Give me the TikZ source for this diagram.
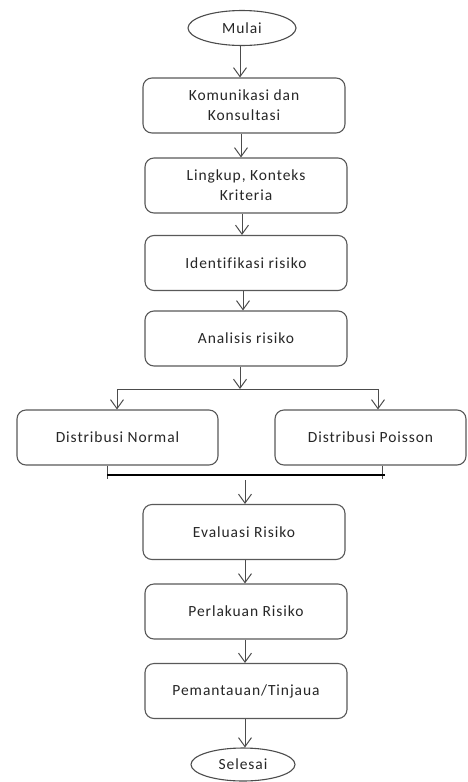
\documentclass[tikz,border=0pt]{standalone}
\usepackage{fontspec}
\setmainfont{Carlito}[LetterSpace=6,RawFeature={-liga;-dlig}]
\usetikzlibrary{arrows.meta,shapes.geometric}
\tikzset{
  stepbox/.style={draw=black!65, line width=1.1pt, rounded corners=9pt, fill=white,
    minimum width=202pt, minimum height=55pt, align=center,
    font=\fontsize{15.5}{20}\selectfont, text=black!85},
  endbox/.style={draw=black!70, line width=1.1pt, ellipse, fill=white,
    minimum width=108pt, minimum height=35pt, inner sep=0pt,
    font=\fontsize{15.5}{20}\selectfont, text=black!85},
  flow/.style={draw=black!70, line width=1pt, -{Straight Barb[length=9pt,width=13pt,line width=1pt]}},
  link/.style={draw=black!70, line width=1pt},
}
\begin{document}
\begin{tikzpicture}[x=1pt,y=-1pt]
  \useasboundingbox (0,0) rectangle (468,782);

  %%%%% nodes %%%%%
  \node[endbox] (mulai) at (242,28) {Mulai};
  \node[stepbox] (komunikasi) at (244,105.5) {Komunikasi dan\\Konsultasi};
  \node[stepbox] (lingkup) at (246,185.5) {Lingkup, Konteks\\Kriteria};
  \node[stepbox] (identifikasi) at (246,263) {Identifikasi risiko};
  \node[stepbox] (analisis) at (246,338.5) {Analisis risiko};
  \node[stepbox, minimum width=201pt] (normal) at (117.5,437.5) {Distribusi Normal};
  \node[stepbox, minimum width=191pt] (poisson) at (370.5,437.5) {Distribusi Poisson};
  \node[stepbox] (evaluasi) at (244,532) {Evaluasi Risiko};
  \node[stepbox] (perlakuan) at (246,611.5) {Perlakuan Risiko};
  \node[stepbox] (pemantauan) at (246,691) {Pemantauan/Tinjaua};
  \node[endbox, minimum width=104pt, minimum height=33pt] (selesai) at (243,764.5) {Selesai};

  %%%%% helper points %%%%%
  \coordinate (cabang) at (240,389);
  \coordinate (cabangkiri) at (117,389);
  \coordinate (cabangkanan) at (378,389);
  \coordinate (gabungkiri) at (107,475);
  \coordinate (gabungkanan) at (385,475);
  \coordinate (gabung) at (245,480);

  %%%%% connectors %%%%%
  \draw[flow] (mulai.south -| 240,0) -- (komunikasi.north -| 240,0);
  \draw[flow] (komunikasi.south -| 241,0) -- (lingkup.north -| 241,0);
  \draw[flow] (lingkup.south -| 242,0) -- (identifikasi.north -| 242,0);
  \draw[flow] (identifikasi.south -| 243,0) -- (analisis.north -| 243,0);

  \draw[flow] (analisis.south -| cabang) -- (cabang);
  \draw[link] (cabangkiri) -- (cabangkanan);
  \draw[flow] (cabangkiri) -- (cabangkiri |- normal.north);
  \draw[flow] (cabangkanan) -- (cabangkanan |- poisson.north);

  \draw[link] (normal.south -| gabungkiri) -- ++(0,13);
  \draw[link] (poisson.south -| 382,0) -- ++(0,13);
  \draw[line width=2.6pt] (gabungkiri) -- (gabungkanan);

  \draw[flow] (gabung) -- (gabung |- evaluasi.north);
  \draw[flow] (evaluasi.south -| 245,0) -- (perlakuan.north -| 245,0);
  \draw[flow] (perlakuan.south -| 245,0) -- (pemantauan.north -| 245,0);
  \draw[flow] (pemantauan.south -| 245,0) -- (selesai.north -| 245,0);
\end{tikzpicture}
\end{document}
